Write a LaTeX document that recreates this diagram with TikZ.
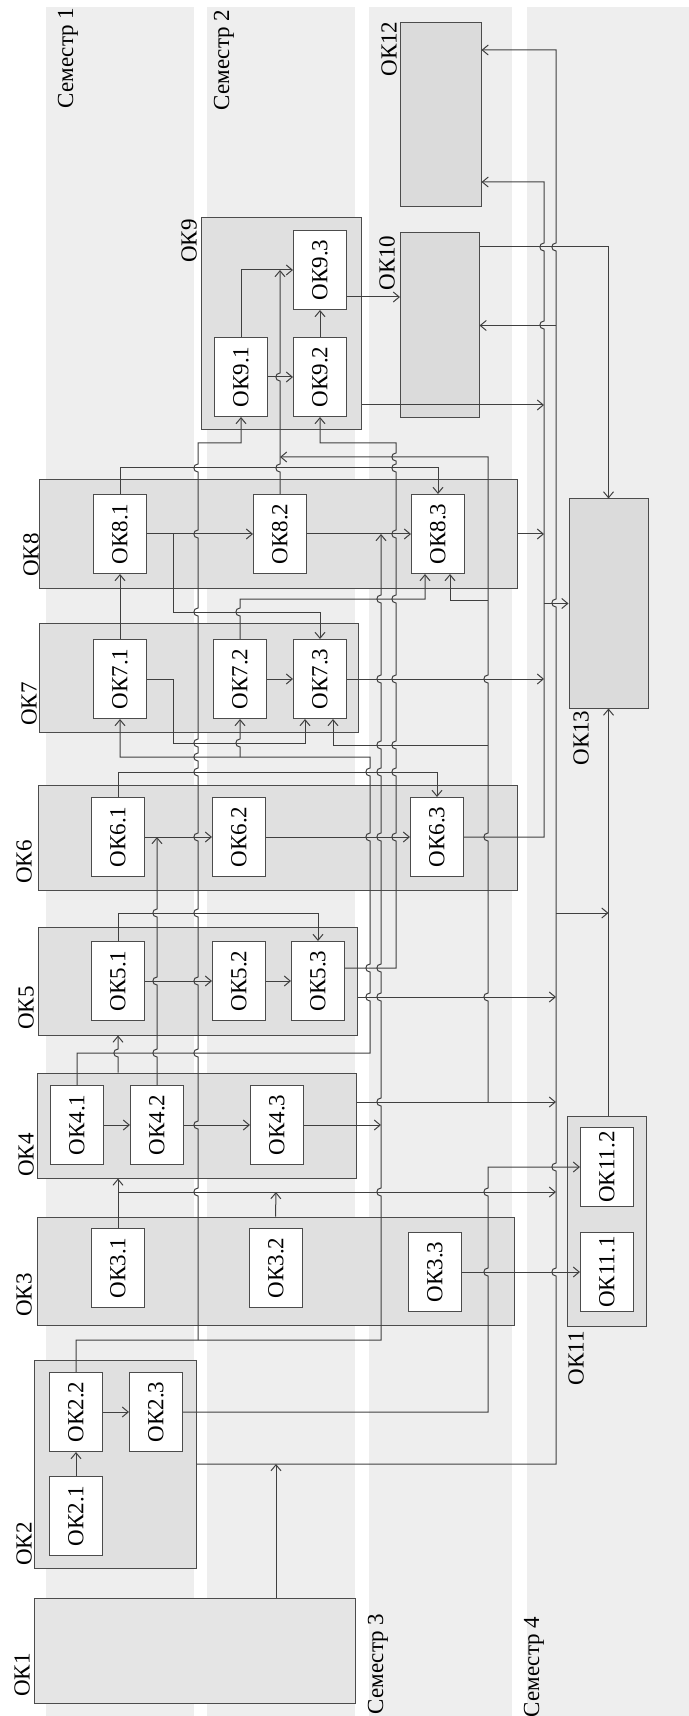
\documentclass[tikz,border=0pt]{standalone}
\usepackage{fontspec}
\setmainfont{Liberation Serif}
\usepackage{graphicx}
\usetikzlibrary{arrows.meta, fit}
\newcommand{\vok}[1]{\rotatebox{90}{ОК#1}}
\newcommand{\hu}[2]{-- (#1,#2+4) .. controls (#1-5.5,#2+4) and (#1-5.5,#2-4) .. (#1,#2-4)}
\begin{document}
\begin{tikzpicture}[x={(0.5pt,0)}, y={(0,-0.5pt)},
    band/.style={fill=gray!13},
    grp/.style={draw=black!70, fill=gray!24, line width=0.5pt, inner sep=0pt},
    blk/.style={draw=black!70, fill=gray!28, line width=0.5pt, inner sep=0pt},
    sub/.style={draw=black!70, fill=white, line width=0.5pt, inner sep=0pt, minimum width=26.5pt, minimum height=39.5pt},
    lbl/.style={inner sep=0pt},
    con/.style={draw=black!75, line width=0.5pt},
    arr/.style={con, -{Straight Barb[length=3pt, width=5pt]}},
    font=\fontsize{11.5}{13}\selectfont]
    \useasboundingbox (0,0) rectangle (689,1716);
    \fill[band] (46,7) rectangle (194,1716);
    \fill[band] (207,7) rectangle (355,1716);
    \fill[band] (369,7) rectangle (512,1716);
    \fill[band] (527,7) rectangle (689,1716);
    \node[lbl] (s1) at (68,58) {\rotatebox{90}{Семестр 1}};
    \node[lbl] (s2) at (224,60) {\rotatebox{90}{Семестр 2}};
    \node[lbl] (s3) at (378,1664) {\rotatebox{90}{Семестр 3}};
    \node[lbl] (s4) at (534,1667) {\rotatebox{90}{Семестр 4}};

    \node[grp, fit={(34,1360) (196,1568)}] (gr2) {};
    \node[grp, fit={(37,1217) (514,1325)}] (gr3) {};
    \node[grp, fit={(37,1073) (356,1178)}] (gr4) {};
    \node[grp, fit={(38,927) (357,1035)}] (gr5) {};
    \node[grp, fit={(38,785) (517,890)}] (gr6) {};
    \node[grp, fit={(39,623) (358,732)}] (gr7) {};
    \node[grp, fit={(39,480) (517,588)}] (gr8) {};
    \node[grp, fit={(201,218) (361,430)}] (gr9) {};
    \node[grp, fit={(567,1116) (646,1326)}] (gr11) {};
    \node[blk, fill=gray!20, fit={(34,1598) (355,1703)}] (ok1) {};
    \node[blk, fit={(400,233) (479,418)}] (ok10) {};
    \node[blk, fit={(400,23) (481,207)}] (ok12) {};
    \node[blk, fit={(569,499) (648,708)}] (ok13) {};

    \node[lbl] (t1) at (22,1675) {\vok{1}};
    \node[lbl] (t2) at (24,1544) {\vok{2}};
    \node[lbl] (t3) at (24,1295) {\vok{3}};
    \node[lbl] (t4) at (26,1155) {\vok{4}};
    \node[lbl] (t5) at (26,1008) {\vok{5}};
    \node[lbl] (t6) at (24,862) {\vok{6}};
    \node[lbl] (t7) at (29,704) {\vok{7}};
    \node[lbl] (t8) at (31,555) {\vok{8}};
    \node[lbl] (t9) at (189,241) {\vok{9}};
    \node[lbl] (t10) at (387,263) {\vok{10}};
    \node[lbl] (t11) at (576,1358) {\vok{11}};
    \node[lbl] (t12) at (389,49) {\vok{12}};
    \node[lbl] (t13) at (581,738) {\vok{13}};

    \node[sub] (ok21) at (76,1516) {\vok{2.1}};
    \node[sub] (ok22) at (76,1412) {\vok{2.2}};
    \node[sub] (ok23) at (156,1412) {\vok{2.3}};
    \node[sub] (ok31) at (118,1268) {\vok{3.1}};
    \node[sub] (ok32) at (276,1268) {\vok{3.2}};
    \node[sub] (ok33) at (435,1272) {\vok{3.3}};
    \node[sub] (ok41) at (77,1125) {\vok{4.1}};
    \node[sub] (ok42) at (157,1125) {\vok{4.2}};
    \node[sub] (ok43) at (277,1125) {\vok{4.3}};
    \node[sub] (ok51) at (118,981) {\vok{5.1}};
    \node[sub] (ok52) at (239,981) {\vok{5.2}};
    \node[sub] (ok53) at (318,981) {\vok{5.3}};
    \node[sub] (ok61) at (118,837) {\vok{6.1}};
    \node[sub] (ok62) at (239,837) {\vok{6.2}};
    \node[sub] (ok63) at (437,837) {\vok{6.3}};
    \node[sub] (ok71) at (120,679) {\vok{7.1}};
    \node[sub] (ok72) at (240,679) {\vok{7.2}};
    \node[sub] (ok73) at (320,679) {\vok{7.3}};
    \node[sub] (ok81) at (120,534) {\vok{8.1}};
    \node[sub] (ok82) at (280,534) {\vok{8.2}};
    \node[sub] (ok83) at (438,534) {\vok{8.3}};
    \node[sub] (ok91) at (241,377) {\vok{9.1}};
    \node[sub] (ok92) at (320,377) {\vok{9.2}};
    \node[sub] (ok93) at (320,270) {\vok{9.3}};
    \node[sub] (ok111) at (607,1272) {\vok{11.1}};
    \node[sub] (ok112) at (607,1167) {\vok{11.2}};

    \draw[arr] (ok21) -- (ok22);
    \draw[arr] (ok22) -- (ok23);
    \draw[arr] (ok22.north) -- (76,1340) -- (381,1340) \hu{381}{1192} \hu{381}{1102} \hu{381}{997} \hu{381}{968} \hu{381}{837} \hu{381}{772} \hu{381}{745} \hu{381}{679} \hu{381}{599} -- (381,534);
    \draw[arr] (198,1340) \hu{198}{1192} \hu{198}{1125} \hu{198}{1053} \hu{198}{981} \hu{198}{913} \hu{198}{837} \hu{198}{772} \hu{198}{757} \hu{198}{743} \hu{198}{612} \hu{198}{534} \hu{198}{468} -- (198,443) -- (241,443) -- (ok91.south);
    \draw[arr] (ok23.east) -- (488,1412) \hu{488}{1272} \hu{488}{1192} -- (488,1167) -- (ok112.west);
    \draw[arr] (gr2.east) -- (556,1464) \hu{556}{1272} \hu{556}{1167} \hu{556}{603} \hu{556}{247} -- (556,50) -- ([yshift=32.5pt]ok12.east);
    \draw[arr] (ok1.north -| ok32) -- (276,1464);

    \draw[arr] (ok31.north) -- (gr4.south -| ok31);
    \draw[arr] (118,1192) -- (556,1192);
    \draw[arr] (gr3.north) -- (276,1192);
    \draw[arr] (ok33) -- (ok111);

    \draw[arr] (ok41) -- (ok42);
    \draw[arr] (ok42) -- (ok43);
    \draw[arr] (ok43.east) -- (381,1125);
    \draw[arr] ([yshift=11.75pt]gr4.east) -- (556,1102);
    \draw[arr] (488,1102) \hu{488}{997} \hu{488}{837} \hu{488}{679} -- (488,457) -- (280,457);
    \draw[arr] (488,745) -- (333,745) -- ([xshift=6.5pt]ok73.south);
    \draw[arr] (488,600) -- (450,600) -- ([xshift=6pt]ok83.south);
    \draw[arr] (ok41.north) -- (77,1053) -- (370,1053) \hu{370}{997} \hu{370}{968} \hu{370}{837} \hu{370}{772} -- (370,757) -- (120,757) -- (ok71.south);
    \draw[arr] (240,757) \hu{240}{743} -- (ok72.south);
    \draw[arr] (gr4.north -| ok51) \hu{118}{1053} -- (gr5.south -| ok51);
    \draw[arr] (ok42.north) \hu{157}{1053} \hu{157}{981} \hu{157}{913} -- (157,837);

    \draw[arr] (ok51) -- (ok52);
    \draw[arr] (ok52) -- (ok53);
    \draw[arr] (ok51.north) -- (118,913) -- (318,913) -- (ok53.north);
    \draw[arr] ([yshift=6.5pt]ok53.east) -- (396,968) \hu{396}{837} \hu{396}{772} \hu{396}{745} \hu{396}{679} \hu{396}{599} \hu{396}{534} \hu{396}{468} \hu{396}{457} -- (396,443) -- (320,443) -- (ok92.south);
    \draw[arr] ([yshift=-8pt]gr5.east) -- (556,997);

    \draw[arr] (ok61) -- (ok62);
    \draw[arr] (ok62) -- (ok63);
    \draw[arr] (ok61.north) -- (118,772) -- (437,772) -- (ok63.north);
    \draw[arr] (ok63.east) -- (544,837) \hu{544}{325} \hu{544}{247} -- (544,182) -- ([yshift=-33.5pt]ok12.east);

    \draw[arr] (ok71) -- (ok81);
    \draw[arr] (ok71.east) -- (173,679) -- (173,743) -- (305,743) -- ([xshift=-7.5pt]ok73.south);
    \draw[arr] (ok72) -- (ok73);
    \draw[arr] (ok72.north) \hu{240}{612} -- (240,599) -- (425,599) -- ([xshift=-6.5pt]ok83.south);
    \draw[arr] (ok73.east) -- (544,679);

    \draw[arr] (ok81) -- (ok82);
    \draw[arr] (173,534) -- (173,612) -- (320,612) -- (ok73.north);
    \draw[arr] (ok81.north) -- (120,468) -- (438,468) -- (ok83.north);
    \draw[arr] (ok82) -- (ok83);
    \draw[arr] (ok82.north) \hu{280}{468} \hu{280}{377} -- (280,270);
    \draw[arr] (gr8.east) -- (544,534);

    \draw[arr] (ok91) -- (ok92);
    \draw[arr] (ok92) -- (ok93);
    \draw[arr] (ok91.north) -- (241,270) -- (ok93.west);
    \draw[arr] ([yshift=-13.5pt]ok93.east) -- (400,297);
    \draw[arr] ([yshift=-40.5pt]gr9.east) -- (544,405);

    \draw[arr] ([yshift=39.25pt]ok10.east) -- (608.5,247) -- (ok13.north);
    \draw[arr] (556,325.5) -- (ok10.east);
    \draw[arr] (544,603.5) -- (ok13.west);
    \draw[arr] (gr11.north -| ok13) -- (ok13.south);
    \draw[arr] (556,913) -- (608.5,913);
\end{tikzpicture}
\end{document}
